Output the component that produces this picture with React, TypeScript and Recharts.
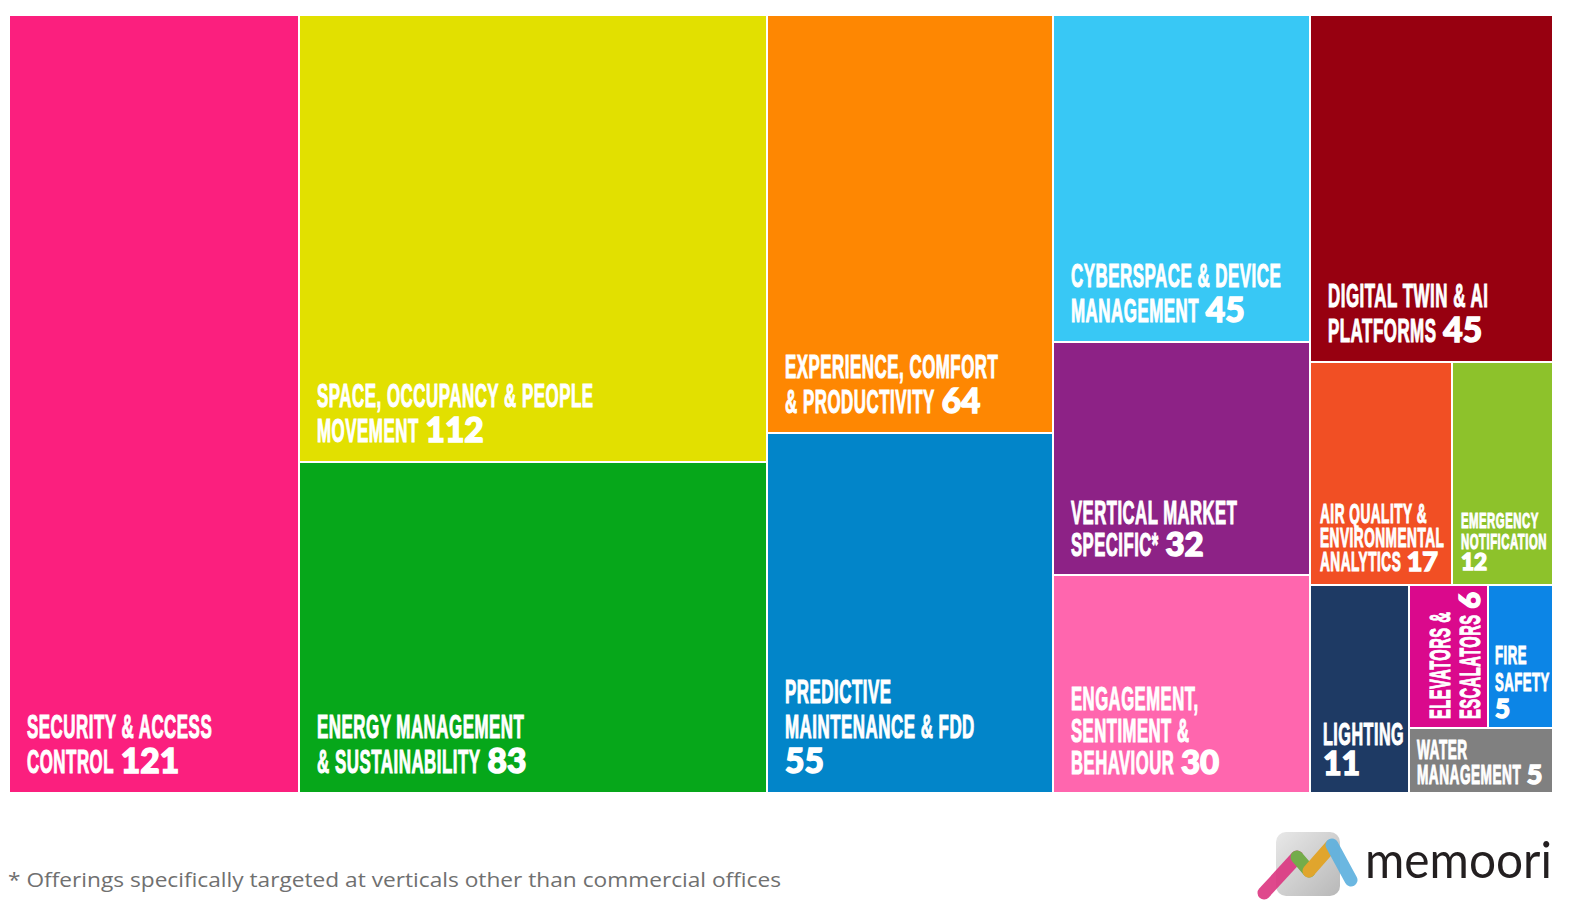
import { Treemap } from "recharts";

// Smart building offerings by category (count of offerings)
const CATEGORIES = [
  "Security & Access Control",
  "Space, Occupancy & People Movement",
  "Energy Management & Sustainability",
  "Experience, Comfort & Productivity",
  "Predictive Maintenance & FDD",
  "Cyberspace & Device Management",
  "Vertical Market Specific*",
  "Engagement, Sentiment & Behaviour",
  "Digital Twin & AI Platforms",
  "Air Quality & Environmental Analytics",
  "Emergency Notification",
  "Lighting",
  "Elevators & Escalators",
  "Fire Safety",
  "Water Management",
];

const OFFERINGS = [121, 112, 83, 64, 55, 45, 32, 30, 45, 17, 12, 11, 6, 5, 5];

const LABEL_LINES = [
  ["SECURITY & ACCESS", "CONTROL"],
  ["SPACE, OCCUPANCY & PEOPLE", "MOVEMENT"],
  ["ENERGY MANAGEMENT", "& SUSTAINABILITY"],
  ["EXPERIENCE, COMFORT", "& PRODUCTIVITY"],
  ["PREDICTIVE", "MAINTENANCE & FDD", ""],
  ["CYBERSPACE & DEVICE", "MANAGEMENT"],
  ["VERTICAL MARKET", "SPECIFIC*"],
  ["ENGAGEMENT,", "SENTIMENT &", "BEHAVIOUR"],
  ["DIGITAL TWIN & AI", "PLATFORMS"],
  ["AIR QUALITY &", "ENVIRONMENTAL", "ANALYTICS"],
  ["EMERGENCY", "NOTIFICATION", ""],
  ["LIGHTING", ""],
  ["ELEVATORS &", "ESCALATORS"],
  ["FIRE", "SAFETY", ""],
  ["WATER", "MANAGEMENT"],
];

const COLORS = [
  "#fb1f7e",
  "#e2e000",
  "#06a71a",
  "#fe8702",
  "#0285c9",
  "#38c8f5",
  "#8d2286",
  "#ff66ae",
  "#970010",
  "#f14f24",
  "#8dc22b",
  "#1e3a64",
  "#da098c",
  "#0c85e6",
  "#808080",
];

// grouping of the categories (indices), so the squarify layout splits like the original
type Spec = number | Spec[];
const LAYOUT: Spec[] = [
  [[[0, [1, 2]], [3, 4]], [5, [6, 7]]],
  [8, [[9, 10], [11, [[12, 13], 14]]]],
];

const LABEL_TIERS: Record<string, { font: number; lh: number; padX: number; padB: number }> = {
  xl: { font: 33.5, lh: 35, padX: 18, padB: 20 },
  lg: { font: 33, lh: 32, padX: 18, padB: 19 },
  lighting: { font: 32, lh: 30, padX: 13, padB: 18 },
  elev: { font: 29, lh: 30, padX: 9, padB: 8 },
  sm: { font: 27, lh: 24, padX: 10, padB: 14 },
  xs: { font: 22.5, lh: 21, padX: 9, padB: 15 },
  fire: { font: 26, lh: 27, padX: 7, padB: 10 },
  water: { font: 27, lh: 25, padX: 8, padB: 9 },
};

const TIER_OF: Record<string, string> = {
  "Vertical Market Specific*": "lg",
  "Engagement, Sentiment & Behaviour": "lg",
  Lighting: "lighting",
  "Elevators & Escalators": "elev",
  "Air Quality & Environmental Analytics": "sm",
  "Emergency Notification": "xs",
  "Fire Safety": "fire",
  "Water Management": "water",
};

const SX = 0.505; // horizontal squeeze to mimic the condensed headline font
const TRACK = 1; // letter spacing before the squeeze
const LABEL_FONT = "'Liberation Sans', Arial, sans-serif";
const NUMBER_FONT = "Lato, 'Open Sans', sans-serif";

function buildNode(spec: Spec): any {
  if (typeof spec === "number") {
    return {
      name: CATEGORIES[spec],
      value: OFFERINGS[spec],
      color: COLORS[spec],
      lines: LABEL_LINES[spec],
    };
  }
  return { name: "", children: spec.map(buildNode) };
}

const TREE = LAYOUT.map(buildNode);

let ctx: CanvasRenderingContext2D | null = null;
function measure(text: string, size: number) {
  if (!ctx) ctx = document.createElement("canvas").getContext("2d");
  if (!ctx) return text.length * size * 0.6;
  ctx.font = `bold ${size}px 'Liberation Sans', Arial, sans-serif`;
  return ctx.measureText(text).width + TRACK * text.length;
}

function Label({ x0, bottom, lines, count, tier }: any) {
  const s = LABEL_TIERS[tier];
  const n = lines.length;
  return (
    <g fill="#fff" stroke="#fff">
      {lines.map((line: string, i: number) => {
        const base = bottom - s.padB - (n - 1 - i) * s.lh;
        const last = i === n - 1;
        const w = line ? measure(line, s.font) * SX : 0;
        return (
          <g key={i}>
            {line && (
              <text
                transform={`translate(${x0},${base}) scale(${SX},1)`}
                fontFamily={LABEL_FONT}
                fontWeight={700}
                fontSize={s.font}
                letterSpacing={TRACK}
                strokeWidth={1.1}
              >
                {line}
              </text>
            )}
            {last && (
              <text
                x={line ? x0 + w + s.font * 0.2 : x0}
                y={base}
                fontFamily={NUMBER_FONT}
                fontWeight={900}
                fontSize={s.font}
                strokeWidth={1.4}
              >
                {count}
              </text>
            )}
          </g>
        );
      })}
    </g>
  );
}

function renderCell(props: any) {
  const { x, y, width, height, color, lines, value, name } = props;
  if (color === undefined || !lines) return <g />;
  const tier = TIER_OF[name] ?? "xl";
  const s = LABEL_TIERS[tier];
  return (
    <g>
      <rect x={x} y={y} width={width} height={height} fill={color} stroke="#fff" strokeWidth={2} />
      {tier === "elev" ? (
        <g transform={`translate(${x},${y + height}) rotate(-90)`}>
          <Label x0={s.padX} bottom={width} lines={lines} count={value} tier={tier} />
        </g>
      ) : (
        <Label x0={x + s.padX} bottom={y + height} lines={lines} count={value} tier={tier} />
      )}
    </g>
  );
}

export default function App() {
  return (
    <div style={{ position: "relative", width: 1554, height: 895, background: "#fff" }}>
      <div style={{ position: "absolute", left: 1, top: 7 }}>
        <Treemap
          width={1544}
          height={778}
          data={TREE}
          dataKey="value"
          nameKey="name"
          aspectRatio={1.065}
          isAnimationActive={false}
          content={renderCell}
        />
      </div>
      <svg
        width={1570}
        height={911}
        style={{ position: "absolute", left: -8, top: -8, pointerEvents: "none" }}
      >
        <text
          x={8}
          y={887}
          fontSize={20}
          fontFamily="'Open Sans', sans-serif"
          fill="#707070"
          textLength={773}
          lengthAdjust="spacingAndGlyphs"
        >
          * Offerings specifically targeted at verticals other than commercial offices
        </text>
        <defs>
          <linearGradient id="logoBox" x1="0" y1="0" x2="1" y2="1">
            <stop offset="0" stopColor="#e8e8e8" />
            <stop offset="1" stopColor="#b8b8b8" />
          </linearGradient>
        </defs>
        <rect x={1276} y={832} width={64} height={64} rx={10} fill="url(#logoBox)" />
        <g strokeWidth={13} strokeLinecap="round" fill="none" opacity={0.9}>
          <line x1={1264} y1={893} x2={1297} y2={857} stroke="#dc3580" />
          <line x1={1297} y1={857} x2={1309} y2={871} stroke="#6aa83c" />
          <line x1={1309} y1={871} x2={1331} y2={846} stroke="#e3a11c" />
          <line x1={1332} y1={845} x2={1351} y2={880} stroke="#5cb0de" />
        </g>
        <text
          x={1365}
          y={878}
          fontSize={50}
          fontFamily="Lato, sans-serif"
          fill="#231f20"
          textLength={187}
          lengthAdjust="spacingAndGlyphs"
        >
          memoori
        </text>
      </svg>
    </div>
  );
}
